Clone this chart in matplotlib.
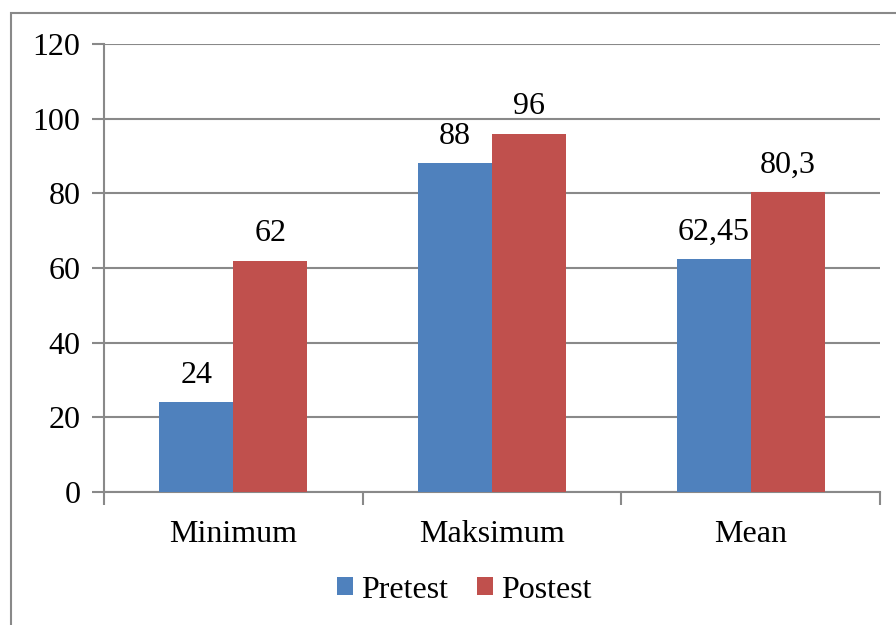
import numpy as np
import matplotlib.pyplot as plt
from matplotlib.patches import Rectangle

categories = ['Minimum', 'Maksimum', 'Mean']
pretest = [24, 88, 62.45]
postest = [62, 96, 80.3]
pre_labels = ['24', '88', '62,45']
post_labels = ['62', '96', '80,3']

plt.rcParams['font.family'] = 'serif'
plt.rcParams['font.serif'] = ['Liberation Serif', 'Times New Roman', 'DejaVu Serif']
grey = '#898989'
blue = '#4f81bd'
red = '#c0504d'

fig = plt.figure(figsize=(8.96, 6.25), dpi=100)
# outer chart frame (runs off the right and bottom edge)
fig.patches.append(Rectangle((11/896, -0.1), 1.2, 1 - 13/625 + 0.1,
                             transform=fig.transFigure, fill=False,
                             edgecolor=grey, linewidth=1.5))

ax = fig.add_axes([104/896, 1 - 492/625, (880 - 104)/896, (492 - 44)/625])

x = np.arange(len(categories))
w = 1 / 3.5
b1 = ax.bar(x - w/2, pretest, w, color=blue, label='Pretest', zorder=3)
b2 = ax.bar(x + w/2, postest, w, color=red, label='Postest', zorder=3)

for bar, lab in zip(b1, pre_labels):
    ax.annotate(lab, (bar.get_x() + bar.get_width()/2, bar.get_height()),
                xytext=(0, 9), textcoords='offset points',
                ha='center', va='bottom', fontsize=23)
for bar, lab in zip(b2, post_labels):
    ax.annotate(lab, (bar.get_x() + bar.get_width()/2, bar.get_height()),
                xytext=(0, 9), textcoords='offset points',
                ha='center', va='bottom', fontsize=23)

ax.set_xlim(-0.5, 2.5)
ax.set_ylim(0, 120)
ax.set_yticks(np.arange(0, 121, 20))
ax.yaxis.grid(True, color=grey, linewidth=1.5, zorder=0)

ax.set_xticks(x)
ax.set_xticklabels(categories)
ax.set_xticks([-0.5, 0.5, 1.5, 2.5], minor=True)
ax.tick_params(axis='x', which='major', length=0, pad=20, labelsize=23)
ax.tick_params(axis='x', which='minor', length=9, width=1.5, color=grey)
ax.tick_params(axis='y', length=9, width=1.5, color=grey, pad=8, labelsize=23)

for s in ['top', 'right']:
    ax.spines[s].set_visible(False)
for s in ['left', 'bottom']:
    ax.spines[s].set_color(grey)
    ax.spines[s].set_linewidth(1.5)

ax.legend(loc='center', bbox_to_anchor=(464/896, 1 - 590/625),
          bbox_transform=fig.transFigure, ncol=2, frameon=False,
          fontsize=23, handlelength=0.5, handleheight=0.5,
          handletextpad=0.25, columnspacing=0.9)

fig.savefig('out.png', dpi=100)
